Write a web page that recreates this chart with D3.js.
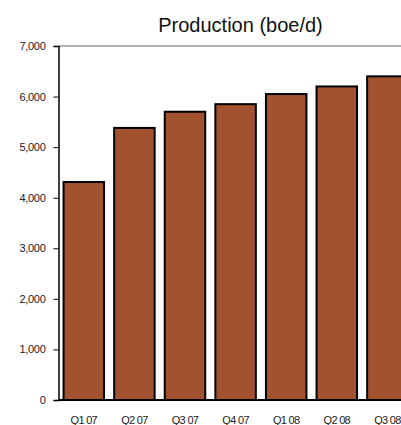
<!DOCTYPE html>
<html>
<head>
<meta charset="utf-8">
<script src="https://cdn.jsdelivr.net/npm/d3@7"></script>
<style>
  html, body { margin: 0; padding: 0; background: #fff; overflow: hidden; }
  svg { display: block; font-family: "Liberation Sans", Arial, sans-serif; }
</style>
</head>
<body>
<svg id="chart" width="401" height="425"></svg>
<script>
const categories = ["Q1 07", "Q2 07", "Q3 07", "Q4 07", "Q1 08", "Q2 08", "Q3 08"];
const production = [4310, 5380, 5700, 5850, 6050, 6200, 6400];
const yTicks = [0, 1000, 2000, 3000, 4000, 5000, 6000, 7000];
const title = "Production (boe/d)";

(function () {
const svg = d3.select("#chart");
const pLeft = 58.5, pTop = 46, pBottom = 400, pRight = 412.7;

const x = d3.scaleBand().domain(categories).range([pLeft, pRight])
  .paddingInner(0.2).paddingOuter(0.1);
const y = d3.scaleLinear().domain([0, 7000]).range([pBottom, pTop]);

// top border line of plot area
svg.append("line")
  .attr("x1", pLeft).attr("x2", 401)
  .attr("y1", y(7000)).attr("y2", y(7000))
  .attr("stroke", "#999").attr("stroke-width", 1.5);

// bars
svg.append("g").selectAll("rect").data(production).join("rect")
  .attr("x", (d, i) => x(categories[i]))
  .attr("y", d => y(d))
  .attr("width", x.bandwidth())
  .attr("height", d => y(0) - y(d))
  .attr("fill", "#A35230")
  .attr("stroke", "#000")
  .attr("stroke-width", 2);

// y axis
const yAxis = svg.append("g")
  .attr("transform", `translate(${pLeft},0)`)
  .call(d3.axisLeft(y).tickValues(yTicks).tickFormat(d3.format(",")).tickSize(5).tickPadding(8));
yAxis.select(".domain").attr("stroke", "#000").attr("stroke-width", 1.5);
yAxis.selectAll(".tick line").attr("stroke", "#000");
yAxis.selectAll("text").attr("font-size", 11).attr("fill", "#222")
  .attr("font-family", "Liberation Sans, Arial, sans-serif").attr("letter-spacing", "-0.3px");

// x baseline
svg.append("line")
  .attr("x1", pLeft).attr("x2", 401)
  .attr("y1", y(0)).attr("y2", y(0))
  .attr("stroke", "#000").attr("stroke-width", 2);

// x labels
const xAxis = svg.append("g")
  .attr("transform", `translate(0,${pBottom})`)
  .call(d3.axisBottom(x).tickSize(0).tickPadding(16));
xAxis.select(".domain").remove();
xAxis.selectAll("text").attr("font-size", 11).attr("fill", "#222")
  .attr("font-family", "Liberation Sans, Arial, sans-serif").attr("letter-spacing", "-0.7px");

// title
svg.append("text")
  .attr("x", 240.5).attr("y", 32)
  .attr("text-anchor", "middle")
  .attr("font-size", 20)
  .attr("fill", "#111")
  .text(title);
})();
</script>
</body>
</html>
